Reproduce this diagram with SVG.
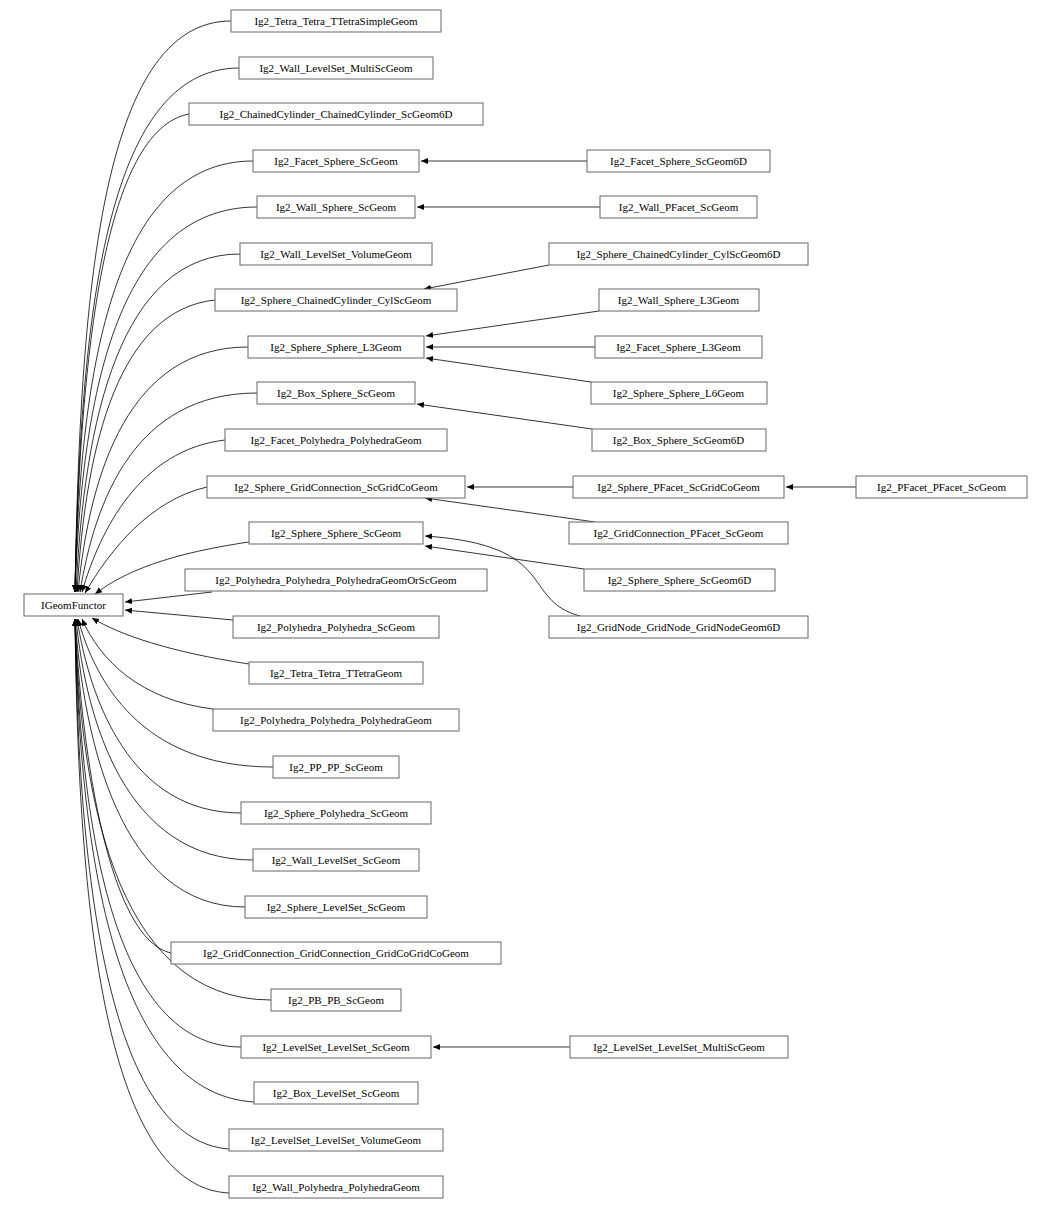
<svg xmlns="http://www.w3.org/2000/svg" width="1052" height="1210" viewBox="0 0 1052 1210">
<style>
rect{fill:#fff;stroke:#666;stroke-width:1}
text{font-family:"Liberation Serif",serif;font-size:11px;text-anchor:middle;fill:#000}
.e path{fill:none;stroke:#000;stroke-width:0.8;marker-end:url(#a)}
</style>
<defs><marker id="a" markerWidth="8" markerHeight="8" refX="7" refY="3" orient="auto" markerUnits="userSpaceOnUse"><path d="M0,0L7,3L0,6z" fill="#000"/></marker></defs>
<rect x="0" y="0" width="1052" height="1210" style="fill:#fff;stroke:none"/>
<g class="e">
<path d="M231,21C100,21 80,300 75,592"/>
<path d="M239,68C105,68 80,320 75,592"/>
<path d="M189,114C105,130 80,350 75,592"/>
<path d="M253,161C110,161 80,380 75,592"/>
<path d="M257,207C115,207 82,400 75,592"/>
<path d="M240,254C120,254 84,420 76,592"/>
<path d="M215,300C120,310 86,440 77,592"/>
<path d="M248,347C130,347 90,470 78,592"/>
<path d="M257,393C135,393 95,500 80,592"/>
<path d="M225,440C140,450 100,530 82,592"/>
<path d="M207,487C150,500 110,550 85,593"/>
<path d="M249,542C160,555 120,575 95,594"/>
<path d="M212,592L125,602"/>
<path d="M233,620L125,610"/>
<path d="M249,664C170,652 120,635 92,618"/>
<path d="M213,709C140,700 100,660 82,619"/>
<path d="M273,767C140,767 95,680 78,619"/>
<path d="M241,813C130,813 90,700 77,619"/>
<path d="M253,860C125,860 86,720 76,619"/>
<path d="M245,907C120,907 84,740 75,619"/>
<path d="M171,953C110,940 82,760 75,619"/>
<path d="M271,1000C110,1000 80,780 75,619"/>
<path d="M241,1047C105,1047 80,800 75,619"/>
<path d="M254,1102C105,1093 79,820 75,619"/>
<path d="M229,1149C100,1140 78,840 75,619"/>
<path d="M229,1193C95,1187 78,860 75,619"/>
<path d="M587,161L421,161"/>
<path d="M600,207L417,207"/>
<path d="M549,265L424,289"/>
<path d="M599,311L426,336"/>
<path d="M595,347L426,347"/>
<path d="M591,382L426,358"/>
<path d="M592,429L417,404"/>
<path d="M573,487L467,487"/>
<path d="M856,487L786,487"/>
<path d="M595,522L425,498"/>
<path d="M584,569L425,546"/>
<path d="M580,616C520,600 560,545 425,536"/>
<path d="M570,1047L433,1047"/>
</g>
<g id="n0"><rect x="24" y="594" width="99" height="22"/><text x="73.5" y="609">IGeomFunctor</text></g>
<g id="n1"><rect x="231" y="10" width="210" height="22"/><text x="336" y="25">Ig2_Tetra_Tetra_TTetraSimpleGeom</text></g>
<g id="n2"><rect x="239" y="57" width="194" height="22"/><text x="336" y="72">Ig2_Wall_LevelSet_MultiScGeom</text></g>
<g id="n3"><rect x="189" y="103" width="294" height="22"/><text x="336" y="118">Ig2_ChainedCylinder_ChainedCylinder_ScGeom6D</text></g>
<g id="n4"><rect x="253" y="150" width="166" height="22"/><text x="336" y="165">Ig2_Facet_Sphere_ScGeom</text></g>
<g id="n5"><rect x="257" y="196" width="158" height="22"/><text x="336" y="211">Ig2_Wall_Sphere_ScGeom</text></g>
<g id="n6"><rect x="240" y="243" width="192" height="22"/><text x="336" y="258">Ig2_Wall_LevelSet_VolumeGeom</text></g>
<g id="n7"><rect x="215" y="289" width="242" height="22"/><text x="336" y="304">Ig2_Sphere_ChainedCylinder_CylScGeom</text></g>
<g id="n8"><rect x="248" y="336" width="176" height="22"/><text x="336" y="351">Ig2_Sphere_Sphere_L3Geom</text></g>
<g id="n9"><rect x="257" y="382" width="158" height="22"/><text x="336" y="397">Ig2_Box_Sphere_ScGeom</text></g>
<g id="n10"><rect x="225" y="429" width="222" height="22"/><text x="336" y="444">Ig2_Facet_Polyhedra_PolyhedraGeom</text></g>
<g id="n11"><rect x="207" y="476" width="258" height="22"/><text x="336" y="491">Ig2_Sphere_GridConnection_ScGridCoGeom</text></g>
<g id="n12"><rect x="249" y="522" width="174" height="22"/><text x="336" y="537">Ig2_Sphere_Sphere_ScGeom</text></g>
<g id="n13"><rect x="185" y="569" width="302" height="22"/><text x="336" y="584">Ig2_Polyhedra_Polyhedra_PolyhedraGeomOrScGeom</text></g>
<g id="n14"><rect x="233" y="616" width="206" height="22"/><text x="336" y="631">Ig2_Polyhedra_Polyhedra_ScGeom</text></g>
<g id="n15"><rect x="249" y="662" width="174" height="22"/><text x="336" y="677">Ig2_Tetra_Tetra_TTetraGeom</text></g>
<g id="n16"><rect x="213" y="709" width="246" height="22"/><text x="336" y="724">Ig2_Polyhedra_Polyhedra_PolyhedraGeom</text></g>
<g id="n17"><rect x="273" y="756" width="126" height="22"/><text x="336" y="771">Ig2_PP_PP_ScGeom</text></g>
<g id="n18"><rect x="241" y="802" width="190" height="22"/><text x="336" y="817">Ig2_Sphere_Polyhedra_ScGeom</text></g>
<g id="n19"><rect x="253" y="849" width="166" height="22"/><text x="336" y="864">Ig2_Wall_LevelSet_ScGeom</text></g>
<g id="n20"><rect x="245" y="896" width="182" height="22"/><text x="336" y="911">Ig2_Sphere_LevelSet_ScGeom</text></g>
<g id="n21"><rect x="171" y="942" width="330" height="22"/><text x="336" y="957">Ig2_GridConnection_GridConnection_GridCoGridCoGeom</text></g>
<g id="n22"><rect x="271" y="989" width="130" height="22"/><text x="336" y="1004">Ig2_PB_PB_ScGeom</text></g>
<g id="n23"><rect x="241" y="1036" width="190" height="22"/><text x="336" y="1051">Ig2_LevelSet_LevelSet_ScGeom</text></g>
<g id="n24"><rect x="254" y="1082" width="164" height="22"/><text x="336" y="1097">Ig2_Box_LevelSet_ScGeom</text></g>
<g id="n25"><rect x="229" y="1129" width="214" height="22"/><text x="336" y="1144">Ig2_LevelSet_LevelSet_VolumeGeom</text></g>
<g id="n26"><rect x="229" y="1176" width="214" height="22"/><text x="336" y="1191">Ig2_Wall_Polyhedra_PolyhedraGeom</text></g>
<g id="r1"><rect x="587" y="150" width="183" height="22"/><text x="678.5" y="165">Ig2_Facet_Sphere_ScGeom6D</text></g>
<g id="r2"><rect x="600" y="196" width="157" height="22"/><text x="678.5" y="211">Ig2_Wall_PFacet_ScGeom</text></g>
<g id="r3"><rect x="549" y="243" width="259" height="22"/><text x="678.5" y="258">Ig2_Sphere_ChainedCylinder_CylScGeom6D</text></g>
<g id="r4"><rect x="599" y="289" width="160" height="22"/><text x="678.5" y="304">Ig2_Wall_Sphere_L3Geom</text></g>
<g id="r5"><rect x="595" y="336" width="167" height="22"/><text x="678.5" y="351">Ig2_Facet_Sphere_L3Geom</text></g>
<g id="r6"><rect x="591" y="382" width="176" height="22"/><text x="678.5" y="397">Ig2_Sphere_Sphere_L6Geom</text></g>
<g id="r7"><rect x="592" y="429" width="174" height="22"/><text x="678.5" y="444">Ig2_Box_Sphere_ScGeom6D</text></g>
<g id="r8"><rect x="573" y="476" width="211" height="22"/><text x="678.5" y="491">Ig2_Sphere_PFacet_ScGridCoGeom</text></g>
<g id="r9"><rect x="569" y="522" width="219" height="22"/><text x="678.5" y="537">Ig2_GridConnection_PFacet_ScGeom</text></g>
<g id="r10"><rect x="584" y="569" width="191" height="22"/><text x="679.5" y="584">Ig2_Sphere_Sphere_ScGeom6D</text></g>
<g id="r11"><rect x="549" y="616" width="259" height="22"/><text x="678.5" y="631">Ig2_GridNode_GridNode_GridNodeGeom6D</text></g>
<g id="r12"><rect x="570" y="1036" width="218" height="22"/><text x="679" y="1051">Ig2_LevelSet_LevelSet_MultiScGeom</text></g>
<g id="r13"><rect x="856" y="476" width="171" height="22"/><text x="941.5" y="491">Ig2_PFacet_PFacet_ScGeom</text></g>
</svg>
